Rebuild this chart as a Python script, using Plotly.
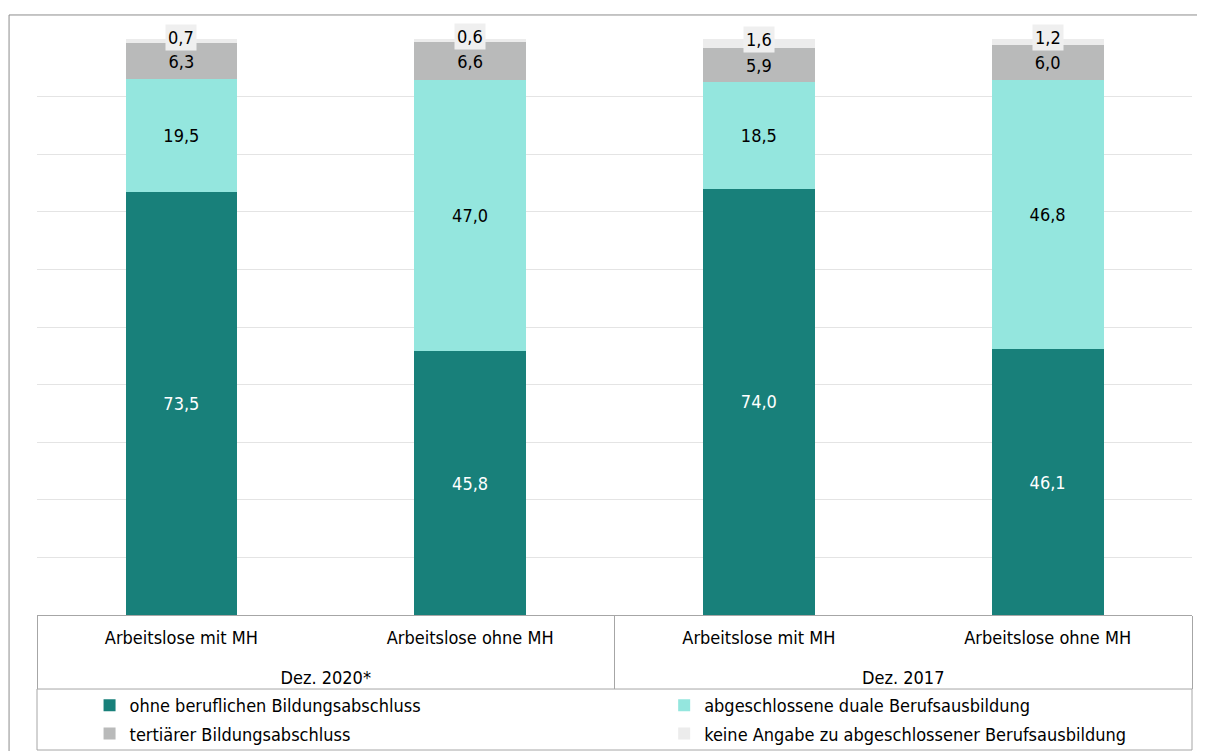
import plotly.graph_objects as go

periods = ["<br>Dez. 2020*", "<br>Dez. 2020*", "<br>Dez. 2017", "<br>Dez. 2017"]
groups = ["Arbeitslose mit MH", "Arbeitslose ohne MH", "Arbeitslose mit MH", "Arbeitslose ohne MH"]

series_names = [
    "ohne beruflichen Bildungsabschluss",
    "abgeschlossene duale Berufsausbildung",
    "tertiärer Bildungsabschluss",
    "keine Angabe zu abgeschlossener Berufsausbildung",
]
ohne = [73.5, 45.8, 74.0, 46.1]
dual = [19.5, 47.0, 18.5, 46.8]
tertiaer = [6.3, 6.6, 5.9, 6.0]
keine = [0.7, 0.6, 1.6, 1.2]

colors = ["#18807a", "#94e6de", "#b9baba", "#ececec"]
text_colors = ["white", "black", "black", "black"]
legend_ids = ["legend", "legend2", "legend", "legend2"]

FONT = "DejaVu Sans Condensed, DejaVu Sans, sans-serif"
FS = 18

fig = go.Figure()
values = [ohne, dual, tertiaer, keine]
for i, (name, vals) in enumerate(zip(series_names, values)):
    fig.add_trace(go.Bar(
        x=[periods, groups], y=vals, name=name,
        marker=dict(color=colors[i], line=dict(width=0)),
        texttemplate="%{y:.1f}" if i < 3 else None,
        textposition="inside" if i < 3 else "none",
        insidetextanchor="middle",
        textfont=dict(color=text_colors[i], size=FS, family=FONT),
        legend=legend_ids[i], legendgroup=f"g{i}",
        hoverinfo="skip",
    ))

# labels for the thin top segment
for k in range(4):
    base = ohne[k] + dual[k] + tertiaer[k]
    fig.add_annotation(
        x=k, y=base + keine[k] / 2, xref="x", yref="y",
        text=f"{keine[k]:.1f}".replace(".", ","),
        showarrow=False, yshift=4, bgcolor="#efefef", borderpad=2,
        font=dict(size=FS, color="black", family=FONT),
    )

# outer border and legend box
fig.add_shape(type="rect", xref="paper", yref="paper",
              x0=-0.0242, x1=1.03, y0=-0.27, y1=1.0417,
              line=dict(color="#8c8c8c", width=1), fillcolor="rgba(0,0,0,0)")
fig.add_shape(type="rect", xref="paper", yref="paper",
              x0=0, x1=1, y0=-0.2344, y1=-0.1285,
              line=dict(color="#a6a6a6", width=1), fillcolor="rgba(0,0,0,0)")

legend_common = dict(
    orientation="v", yanchor="top", xanchor="left",
    bgcolor="rgba(0,0,0,0)", borderwidth=0,
    font=dict(size=FS, family=FONT), traceorder="grouped", tracegroupgap=2,
)

fig.update_layout(
    width=1205, height=790,
    margin=dict(l=29, r=21, t=31, b=183),
    barmode="stack", bargap=0.613,
    separators=",.",
    paper_bgcolor="white", plot_bgcolor="white",
    font=dict(family=FONT, size=FS, color="black"),
    legend=dict(x=0.0455, y=-0.125, **legend_common),
    legend2=dict(x=0.543, y=-0.125, **legend_common),
    xaxis=dict(
        type="multicategory", showline=True, linecolor="#a6a6a6", linewidth=1,
        showdividers=True, dividercolor="#a6a6a6", dividerwidth=1,
        ticks="", tickfont=dict(size=FS, family=FONT), ticklabelstandoff=6,
        automargin=False,
    ),
    yaxis=dict(
        range=[0, 100], tickvals=[10, 20, 30, 40, 50, 60, 70, 80, 90],
        showticklabels=False, showgrid=True, gridcolor="#e4e4e4", gridwidth=1,
        zeroline=False, showline=False, automargin=False,
    ),
)

fig.write_html("out.html")
